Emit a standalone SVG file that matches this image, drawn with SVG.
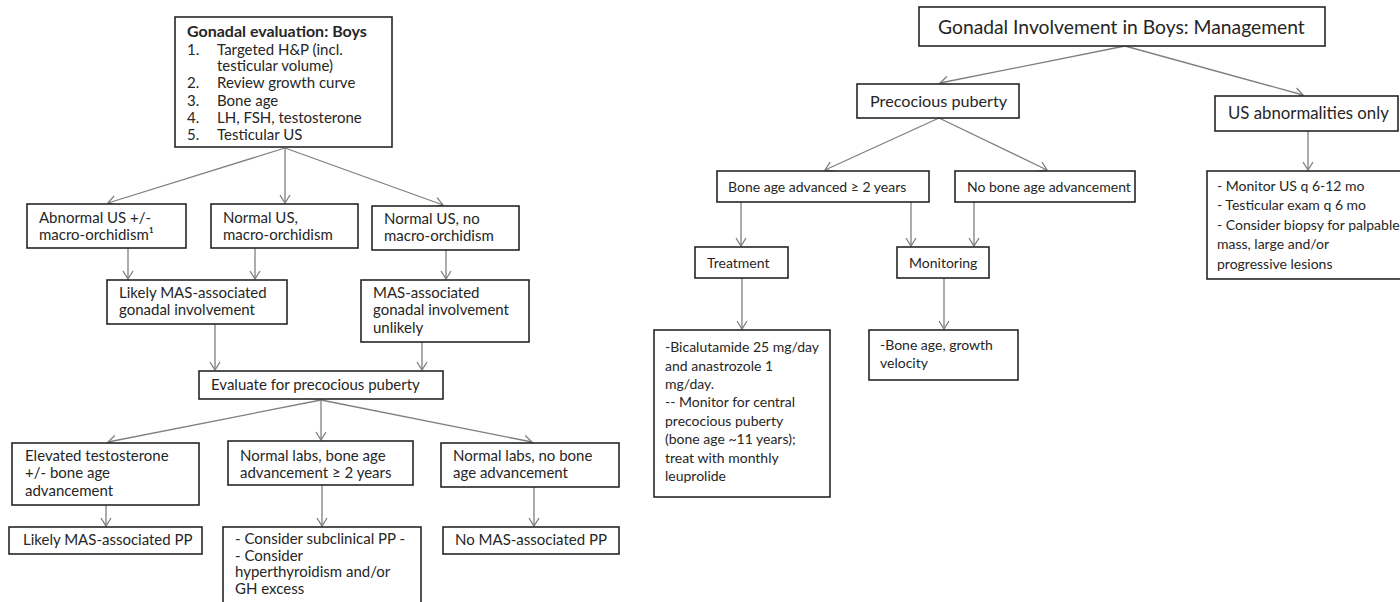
<svg xmlns="http://www.w3.org/2000/svg" width="1400" height="602" viewBox="0 0 1400 602">
  <defs>
    <style>
      .box { fill: #ffffff; stroke: #262626; stroke-width: 1.6; }
      .t { font-family: Lato, "Liberation Sans", sans-serif; font-size: 15px; fill: #262626; }
      .s { font-size: 14px; }
      .b { font-weight: bold; font-size: 16px; }
      .conn path { fill: none; stroke: #7f7f7f; stroke-width: 1.3; marker-end: url(#arrow); }
    </style>
    <marker id="arrow" markerUnits="userSpaceOnUse" viewBox="-10 -6 12 12" refX="0" refY="0" markerWidth="12" markerHeight="12" orient="auto">
      <path d="M-8,-5 L0,0 L-8,5" fill="none" stroke="#7f7f7f" stroke-width="1.3"/>
    </marker>
  </defs>
  <rect width="1400" height="602" fill="#ffffff"/>

  <!-- connectors -->
  <g id="connectors" class="conn">
    <path d="M285,148 L108,203"/>
    <path d="M285,148 L285,203"/>
    <path d="M285,148 L443,205"/>
    <path d="M128,248 L128,279"/>
    <path d="M255,248 L255,279"/>
    <path d="M446,250 L446,279"/>
    <path d="M215,324 L215,370"/>
    <path d="M422,342 L422,370"/>
    <path d="M321,400 L108,442"/>
    <path d="M321,400 L321,440"/>
    <path d="M321,400 L532,442"/>
    <path d="M106,505 L106,526"/>
    <path d="M322,485 L322,526"/>
    <path d="M534,487 L534,526"/>
    <path d="M1125,46 L940,83"/>
    <path d="M1125,46 L1303,95"/>
    <path d="M939,118 L825,170"/>
    <path d="M939,118 L1047,170"/>
    <path d="M741,202 L741,246"/>
    <path d="M911,202 L911,246"/>
    <path d="M974,202 L974,246"/>
    <path d="M742,278 L742,329"/>
    <path d="M944,278 L944,329"/>
    <path d="M1308,131 L1308,170"/>
  </g>

  <!-- left chart: evaluation -->
  <g id="eval-boys">
    <rect class="box" x="175" y="17" width="217" height="130"/>
    <text class="t b" x="187" y="37">Gonadal evaluation: Boys</text>
    <text class="t" x="187" y="55">1.</text><text class="t" x="217" y="55">Targeted H&amp;P (incl.</text>
    <text class="t" x="217" y="71">testicular volume)</text>
    <text class="t" x="187" y="88">2.</text><text class="t" x="217" y="88">Review growth curve</text>
    <text class="t" x="187" y="106">3.</text><text class="t" x="217" y="106">Bone age</text>
    <text class="t" x="187" y="123">4.</text><text class="t" x="217" y="123">LH, FSH, testosterone</text>
    <text class="t" x="187" y="140">5.</text><text class="t" x="217" y="140">Testicular US</text>
  </g>

  <g id="abnormal-us">
    <rect class="box" x="27" y="204" width="159" height="44"/>
    <text class="t" x="39" y="223">Abnormal US +/-</text>
    <text class="t" x="39" y="240">macro-orchidism¹</text>
  </g>

  <g id="normal-us-macro">
    <rect class="box" x="211" y="204" width="147" height="44"/>
    <text class="t" x="223" y="223">Normal US,</text>
    <text class="t" x="223" y="240">macro-orchidism</text>
  </g>

  <g id="normal-us-no-macro">
    <rect class="box" x="372" y="206" width="147" height="44"/>
    <text class="t" x="384" y="224">Normal US, no</text>
    <text class="t" x="384" y="241">macro-orchidism</text>
  </g>

  <g id="likely-gonadal">
    <rect class="box" x="107" y="280" width="180" height="44"/>
    <text class="t" x="119" y="298">Likely MAS-associated</text>
    <text class="t" x="119" y="315">gonadal involvement</text>
  </g>

  <g id="gonadal-unlikely">
    <rect class="box" x="361" y="280" width="168" height="62"/>
    <text class="t" x="373" y="298">MAS-associated</text>
    <text class="t" x="373" y="315">gonadal involvement</text>
    <text class="t" x="373" y="333">unlikely</text>
  </g>

  <g id="evaluate-pp">
    <rect class="box" x="199" y="371" width="244" height="28"/>
    <text class="t" x="211" y="390">Evaluate for precocious puberty</text>
  </g>

  <g id="elevated-t">
    <rect class="box" x="12" y="443" width="187" height="62"/>
    <text class="t" x="25" y="461">Elevated testosterone</text>
    <text class="t" x="25" y="478">+/- bone age</text>
    <text class="t" x="25" y="496">advancement</text>
  </g>

  <g id="normal-labs-advanced">
    <rect class="box" x="228" y="441" width="185" height="44"/>
    <text class="t" x="240" y="461">Normal labs, bone age</text>
    <text class="t" x="240" y="478">advancement ≥ 2 years</text>
  </g>

  <g id="normal-labs-no-advance">
    <rect class="box" x="441" y="443" width="178" height="44"/>
    <text class="t" x="453" y="461">Normal labs, no bone</text>
    <text class="t" x="453" y="478">age advancement</text>
  </g>

  <g id="likely-pp">
    <rect class="box" x="9" y="527" width="193" height="27"/>
    <text class="t" x="23" y="545">Likely MAS-associated PP</text>
  </g>

  <g id="subclinical-pp">
    <rect class="box" x="223" y="527" width="198" height="80"/>
    <text class="t" x="235" y="544">- Consider subclinical PP -</text>
    <text class="t" x="235" y="561">- Consider</text>
    <text class="t" x="235" y="577">hyperthyroidism and/or</text>
    <text class="t" x="235" y="594">GH excess</text>
  </g>

  <g id="no-pp">
    <rect class="box" x="443" y="527" width="176" height="27"/>
    <text class="t" x="455" y="545">No MAS-associated PP</text>
  </g>

  <!-- right chart: management -->
  <g id="management">
    <rect class="box" x="919" y="7" width="406" height="39"/>
    <text class="t" x="938" y="34" style="font-size:19.3px">Gonadal Involvement in Boys: Management</text>
  </g>

  <g id="precocious-puberty">
    <rect class="box" x="857" y="84" width="162" height="34"/>
    <text class="t" x="870" y="107" style="font-size:16.2px">Precocious puberty</text>
  </g>

  <g id="us-only">
    <rect class="box" x="1215" y="96" width="183" height="35"/>
    <text class="t" x="1228" y="119" style="font-size:16.8px">US abnormalities only</text>
  </g>

  <g id="bone-age-advanced">
    <rect class="box" x="717" y="171" width="212" height="31"/>
    <text class="t s" x="728" y="192">Bone age advanced ≥ 2 years</text>
  </g>

  <g id="no-bone-age">
    <rect class="box" x="955" y="171" width="180" height="31"/>
    <text class="t s" x="967" y="192">No bone age advancement</text>
  </g>

  <g id="treatment">
    <rect class="box" x="695" y="247" width="93" height="31"/>
    <text class="t s" x="707" y="268">Treatment</text>
  </g>

  <g id="monitoring">
    <rect class="box" x="897" y="247" width="92" height="31"/>
    <text class="t s" x="909" y="268">Monitoring</text>
  </g>

  <g id="treatment-detail">
    <rect class="box" x="654" y="330" width="176" height="167"/>
    <text class="t s" x="665" y="352">-Bicalutamide 25 mg/day</text>
    <text class="t s" x="665" y="371">and anastrozole 1</text>
    <text class="t s" x="665" y="389">mg/day.</text>
    <text class="t s" x="665" y="407">-- Monitor for central</text>
    <text class="t s" x="665" y="426">precocious puberty</text>
    <text class="t s" x="665" y="444">(bone age ~11 years);</text>
    <text class="t s" x="665" y="463">treat with monthly</text>
    <text class="t s" x="665" y="481">leuprolide</text>
  </g>

  <g id="monitoring-detail">
    <rect class="box" x="869" y="330" width="149" height="50"/>
    <text class="t s" x="880" y="350">-Bone age, growth</text>
    <text class="t s" x="880" y="368">velocity</text>
  </g>

  <g id="us-detail">
    <rect class="box" x="1207" y="171" width="200" height="108"/>
    <text class="t s" x="1217" y="191">- Monitor US q 6-12 mo</text>
    <text class="t s" x="1217" y="210">- Testicular exam q 6 mo</text>
    <text class="t s" x="1217" y="230">- Consider biopsy for palpable</text>
    <text class="t s" x="1217" y="249">mass, large and/or</text>
    <text class="t s" x="1217" y="269">progressive lesions</text>
  </g>
</svg>
